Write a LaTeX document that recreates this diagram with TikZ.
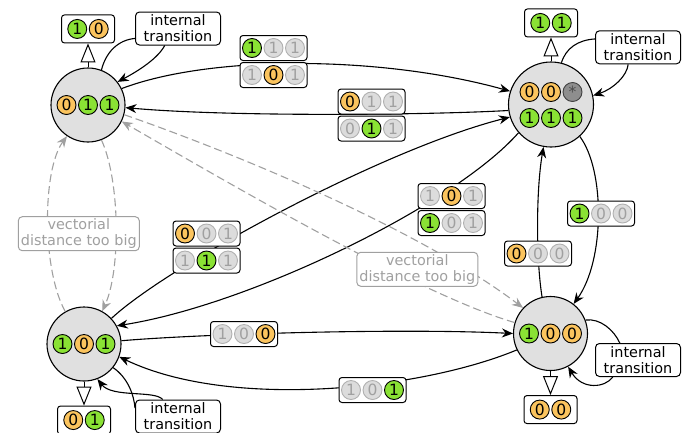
\documentclass[tikz,border=0pt]{standalone}
\usepackage{fontspec}
\setmainfont{DejaVu Sans}
\usepackage{tikz}
\usetikzlibrary{arrows.meta,positioning,calc}
\definecolor{coingreen}{HTML}{8AE234}
\definecolor{coinorange}{HTML}{FBC45E}
\definecolor{statefill}{HTML}{E0E0E0}
\definecolor{fadefill}{HTML}{DCDCDC}
\definecolor{fadeline}{HTML}{B0B0B0}
\definecolor{greyc}{HTML}{A0A0A0}
\definecolor{starfill}{HTML}{8E8E8E}
% row of coins centred on a node or coordinate
\newcommand{\coinrow}[3]{%
  \foreach \cl/\dg [count=\i] in {#3}
    \node[coin,\cl] (#1-\i) at ($(#1)+({(\i-(#2+1)/2)*21.5},0)$) {\dg};%
}

\begin{document}
\begin{tikzpicture}[x=1bp,y=-1bp,
  txt/.style={font=\fontsize{14.4bp}{16bp}\selectfont},
  stnode/.style={circle,draw,line width=1.1bp,fill=statefill,
                 minimum size=74bp,inner sep=0pt},
  coin/.style={circle,draw,line width=0.9bp,minimum size=19bp,inner sep=0pt,
               font=\fontsize{15.5bp}{15.5bp}\selectfont},
  cgreen/.style={fill=coingreen},
  corange/.style={fill=coinorange},
  cfade/.style={fill=fadefill,draw=fadeline,text=greyc},
  cstar/.style={fill=starfill,draw=black!75,text=black!70},
  cbox/.style={draw,line width=1bp,fill=white,rounded corners=3bp,
               minimum width=67bp,minimum height=25bp,inner sep=0pt},
  obox/.style={cbox,minimum width=53bp,minimum height=28bp},
  note/.style={txt,draw,line width=1bp,fill=white,rounded corners=4bp,
               align=center,minimum width=85bp,minimum height=33bp,inner sep=0pt},
  farnote/.style={note,draw=greyc,text=greyc,minimum width=121bp,minimum height=34bp},
  ln/.style={line width=1.1bp},
  ar/.style={-{Stealth[length=11bp,width=9bp]},line width=1.1bp},
  farar/.style={ar,greyc,dash pattern=on 8bp off 4bp},
  outar/.style={-{Triangle[length=19bp,width=15bp,fill=white]},line width=1bp},
]
\useasboundingbox (0,0) rectangle (689,432);

% states
\node[stnode] (A) at (88,105) {};
\node[stnode,minimum size=85bp] (B) at (551,104.5) {};
\node[stnode] (C) at (84,344) {};
\node[stnode] (D) at (550.5,333.5) {};
\coinrow{A}{3}{corange/0,cgreen/1,cgreen/1}
\coordinate (Btop) at ($(B)+(0,-12.5)$);
\coordinate (Bbot) at ($(B)+(0,13.5)$);
\coinrow{Btop}{3}{corange/0,corange/0,cstar/*}
\coinrow{Bbot}{3}{cgreen/1,cgreen/1,cgreen/1}
\coinrow{C}{3}{cgreen/1,corange/0,cgreen/1}
\coinrow{D}{3}{cgreen/1,corange/0,corange/0}

% outputs
\node[obox,above=24bp of A] (Aout) {};
\coinrow{Aout}{2}{cgreen/1,corange/0}
\node[obox,above=24bp of B] (Bout) {};
\coinrow{Bout}{2}{cgreen/1,cgreen/1}
\node[obox,below=24bp of C] (Cout) {};
\coinrow{Cout}{2}{corange/0,cgreen/1}
\node[obox,below=24bp of D] (Dout) {};
\coinrow{Dout}{2}{corange/0,corange/0}
\draw[outar] (A.north) -- (Aout.south);
\draw[outar] (B.north) -- (Bout.south);
\draw[outar] (C.south) -- (Cout.north);
\draw[outar] (D.south) -- (Dout.north);

% internal transitions
\node[note] (Aint) at (178,28.5) {internal\\transition};
\node[note] (Bint) at (638,47.3) {internal\\transition};
\node[note] (Cint) at (178,416.5) {internal\\transition};
\node[note] (Dint) at (638,360) {internal\\transition};
\draw[ln] (A.69) .. controls (106,52) and (118,40) .. (Aint.193);
\draw[ar] (Aint.232) .. controls (158,58) and (140,70) .. (A.38);
\draw[ln] (B.76) .. controls (566,48) and (578,40) .. (Bint.169);
\draw[ar] (Bint.240) .. controls (627,76) and (613,89) .. (B.12);
\draw[ln] (C.321) .. controls (128,378) and (134,395) .. (Cint.169);
\draw[ar] (Cint.132) .. controls (155,390) and (112,398) .. (C.291);
\draw[ln] (D.21) .. controls (600,318) and (614,330) .. (Dint.137);
\draw[ar] (Dint.214) .. controls (605,388) and (582,390) .. (D.298);

% transitions between states
\draw[ar] (A.26) .. controls (210,55) and (380,55) .. (B.162);
\draw[ar] (B.188) .. controls (430,115) and (230,117) .. (A.356);
\draw[ar] (C.43) .. controls (165,268) and (380,150) .. (B.197);
\draw[ar] (B.221) .. controls (455,205) and (250,305) .. (C.29);
\draw[ar] (C.5) .. controls (200,334) and (400,328) .. (D.180);
\draw[ar] (D.206) .. controls (420,390) and (230,410) .. (C.340);
\draw[ar] (D.103) .. controls (536,260) and (536,190) .. (B.260);
\draw[ar] (B.312) .. controls (605,170) and (605,260) .. (D.52);

% rejected transitions
\draw[farar] (A.291) .. controls (120,180) and (121,270) .. (C.61);
\draw[farar] (C.120) .. controls (42,270) and (42,170) .. (A.236);
\draw[farar] (A.345) .. controls (240,155) and (420,230) .. (D.137);
\draw[farar] (D.163) .. controls (420,295) and (225,181) .. (A.334);
\node[farnote] (far1) at (78.8,233.7) {vectorial\\distance too big};
\node[farnote] (far2) at (417.3,269.3) {vectorial\\distance too big};

% edge labels
\node[cbox] (ab1) at (273.5,48) {};
\coinrow{ab1}{3}{cgreen/1,cfade/1,cfade/1}
\node[cbox,below=1bp of ab1] (ab2) {};
\coinrow{ab2}{3}{cfade/1,corange/0,cfade/1}
\node[cbox] (ba1) at (371.5,101.5) {};
\coinrow{ba1}{3}{corange/0,cfade/1,cfade/1}
\node[cbox,below=1bp of ba1] (ba2) {};
\coinrow{ba2}{3}{cfade/0,cgreen/1,cfade/1}
\node[cbox] (cb1) at (206.5,233.5) {};
\coinrow{cb1}{3}{corange/0,cfade/0,cfade/1}
\node[cbox,below=1bp of cb1] (cb2) {};
\coinrow{cb2}{3}{cfade/1,cgreen/1,cfade/1}
\node[cbox] (bc1) at (451.5,196) {};
\coinrow{bc1}{3}{cfade/1,corange/0,cfade/1}
\node[cbox,below=1bp of bc1] (bc2) {};
\coinrow{bc2}{3}{cgreen/1,cfade/0,cfade/1}
\node[cbox] (cd) at (244,334) {};
\coinrow{cd}{3}{cfade/1,cfade/0,corange/0}
\node[cbox] (dc) at (372.5,390) {};
\coinrow{dc}{3}{cfade/1,cfade/0,cgreen/1}
\node[cbox] (db) at (538,253.5) {};
\coinrow{db}{3}{corange/0,cfade/0,cfade/0}
\node[cbox] (bd) at (601,213.5) {};
\coinrow{bd}{3}{cgreen/1,cfade/0,cfade/0}
\end{tikzpicture}
\end{document}
